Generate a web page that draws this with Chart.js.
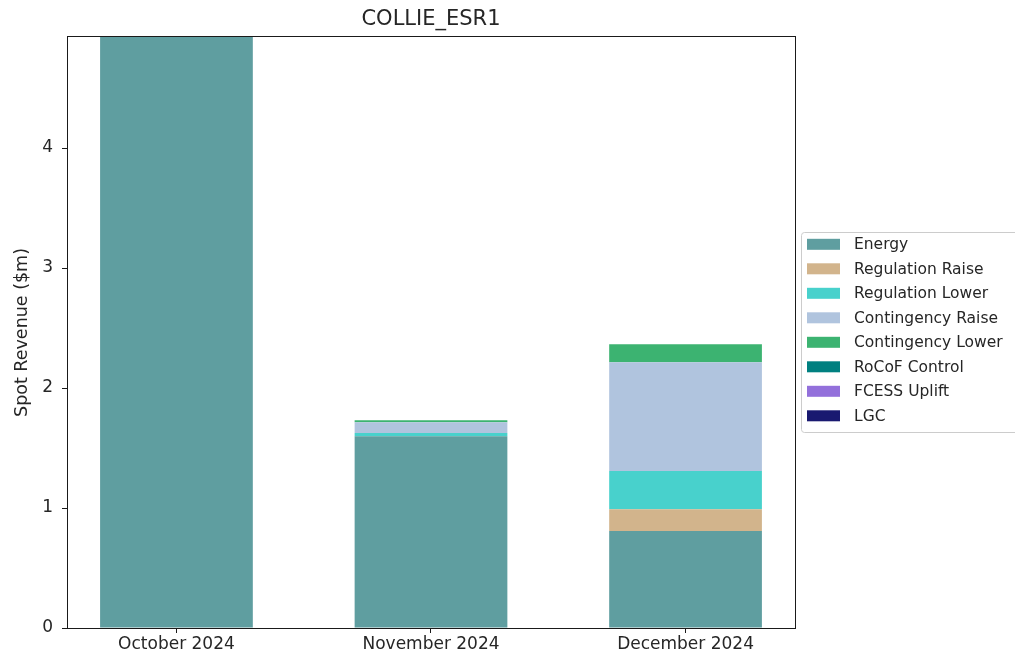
<!DOCTYPE html>
<html lang="en">
<head>
    <meta charset="UTF-8">
    <title>COLLIE_ESR1</title>
    <style>
        body { margin: 0; background: #fff; }
        canvas { display: block; }
    </style>
</head>
<body>
    <canvas id="revChart" width="1015" height="659"></canvas>

    <script src="https://cdn.jsdelivr.net/npm/chart.js"></script>

    <script>
        // Months and revenue per market service ($m)
        const months = ['October 2024', 'November 2024', 'December 2024'];
        const energy = [4.925, 1.598, 0.808];
        const regulationRaise = [0, 0, 0.181];
        const regulationLower = [0, 0.027, 0.319];
        const contingencyRaise = [0, 0.089, 0.906];
        const contingencyLower = [0, 0.017, 0.150];
        const rocofControl = [0, 0, 0];
        const fcessUplift = [0, 0, 0];
        const lgc = [0, 0, 0];
        const yTicks = [0, 1, 2, 3, 4];

        const series = [
            { label: 'Energy', data: energy, color: '#5F9EA0' },
            { label: 'Regulation Raise', data: regulationRaise, color: '#D2B48C' },
            { label: 'Regulation Lower', data: regulationLower, color: '#48D1CC' },
            { label: 'Contingency Raise', data: contingencyRaise, color: '#B0C4DE' },
            { label: 'Contingency Lower', data: contingencyLower, color: '#3CB371' },
            { label: 'RoCoF Control', data: rocofControl, color: '#008080' },
            { label: 'FCESS Uplift', data: fcessUplift, color: '#9370DB' },
            { label: 'LGC', data: lgc, color: '#191970' },
        ];

        const FONT = 'DejaVu Sans';
        const TEXT = '#262626';

        // title, frame and boxed legend drawn by hand
        const decorations = {
            id: 'decorations',
            afterDraw(chart) {
                const ctx = chart.ctx;
                const a = chart.chartArea;
                ctx.save();

                ctx.strokeStyle = '#1a1a1a';
                ctx.lineWidth = 1;
                ctx.strokeRect(Math.round(a.left) + 0.5, Math.round(a.top) - 0.5,
                    Math.round(a.right - a.left), Math.round(a.bottom - a.top) + 1);

                ctx.fillStyle = TEXT;
                ctx.font = '21px "' + FONT + '"';
                ctx.textAlign = 'center';
                ctx.textBaseline = 'middle';
                ctx.fillText('COLLIE_ESR1', (a.left + a.right) / 2, 20);

                // legend box
                const lx = 801.5, ly = 232.5, lh = 200;
                ctx.fillStyle = 'rgba(255,255,255,0.8)';
                ctx.strokeStyle = '#cccccc';
                ctx.beginPath();
                ctx.roundRect(lx, ly, 240, lh, 3);
                ctx.fill();
                ctx.stroke();

                ctx.font = '15.5px "' + FONT + '"';
                ctx.textAlign = 'left';
                chart.data.datasets.forEach((ds, i) => {
                    const cy = 244.3 + i * 24.5;
                    ctx.fillStyle = ds.backgroundColor;
                    ctx.fillRect(807, cy - 5.5, 33, 11);
                    ctx.fillStyle = TEXT;
                    ctx.fillText(ds.label, 854, cy + 1);
                });
                ctx.restore();
            }
        };

        new Chart(document.getElementById('revChart'), {
            type: 'bar',
            data: {
                datasets: series.map(s => ({
                    label: s.label,
                    data: s.data.map((v, i) => ({ x: i, y: v })),
                    backgroundColor: s.color,
                    borderWidth: 0,
                    barPercentage: 0.6,
                    categoryPercentage: 1.0,
                }))
            },
            options: {
                responsive: false,
                animation: false,
                layout: { padding: { top: 37, right: 220, left: 0, bottom: 0 } },
                plugins: {
                    legend: { display: false },
                    title: { display: false },
                    tooltip: { enabled: false },
                },
                scales: {
                    x: {
                        type: 'linear',
                        stacked: true,
                        offset: false,
                        min: -0.43,
                        max: 2.43,
                        afterBuildTicks: scale => {
                            scale.ticks = months.map((m, i) => ({ value: i }));
                        },
                        afterFit: scale => { scale.height = 31; },
                        ticks: {
                            callback: v => months[v],
                            color: TEXT,
                            font: { family: FONT, size: 17 },
                            padding: 1,
                            maxRotation: 0,
                            autoSkip: false,
                        },
                        grid: {
                            offset: false,
                            drawOnChartArea: false,
                            drawTicks: true,
                            tickLength: 5,
                            color: '#1a1a1a',
                        },
                        border: { display: false },
                    },
                    y: {
                        stacked: true,
                        min: 0,
                        max: 4.925,
                        afterBuildTicks: scale => {
                            scale.ticks = yTicks.map(v => ({ value: v }));
                        },
                        afterFit: scale => { scale.width = 67; },
                        title: {
                            display: true,
                            text: 'Spot Revenue ($m)',
                            color: TEXT,
                            font: { family: FONT, size: 17.5 },
                            padding: { top: 12, bottom: 0 },
                        },
                        ticks: {
                            color: TEXT,
                            font: { family: FONT, size: 17 },
                            padding: 9,
                        },
                        grid: {
                            drawOnChartArea: false,
                            drawTicks: true,
                            tickLength: 5,
                            color: '#1a1a1a',
                        },
                        border: { display: false },
                    }
                }
            },
            plugins: [decorations]
        });
    </script>
</body>
</html>
